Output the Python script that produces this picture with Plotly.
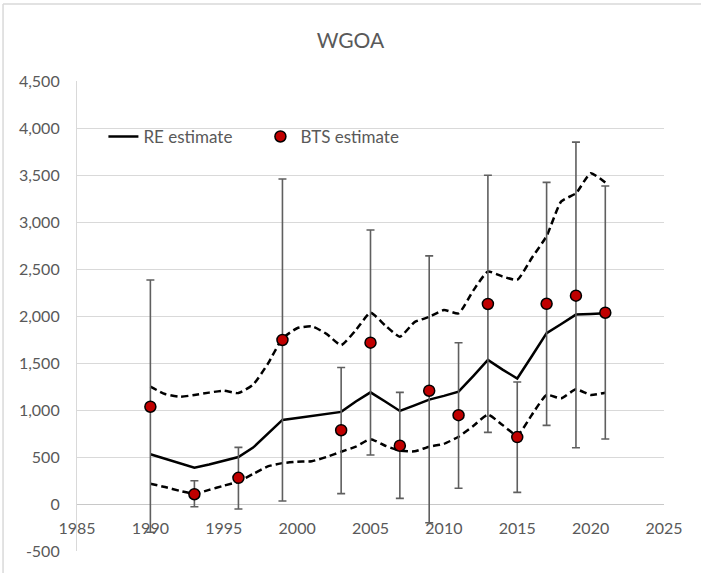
import plotly.graph_objects as go

# RE model (annual)
re_years = list(range(1990, 2022))
re_est = [529, 480, 432, 385, 420, 460, 500, 600, 745, 894, 915, 937, 958, 980, 1090, 1188,
          1090, 990, 1050, 1110, 1150, 1195, 1360, 1532, 1430, 1335, 1575, 1818, 1915, 2015, 2022, 2030]
re_upper = [1248, 1170, 1140, 1160, 1185, 1205, 1180, 1270, 1490, 1760, 1870, 1890, 1810, 1690, 1850, 2035,
            1900, 1780, 1935, 1990, 2064, 2028, 2270, 2472, 2420, 2385, 2620, 2850, 3220, 3305, 3518, 3420]
re_lower = [215, 180, 140, 110, 150, 195, 237, 320, 400, 435, 450, 455, 500, 556, 610, 690,
            620, 567, 560, 610, 640, 716, 830, 950, 840, 730, 950, 1160, 1124, 1220, 1160, 1184]

# Bottom trawl survey
bts_years = [1990, 1993, 1996, 1999, 2003, 2005, 2007, 2009, 2011, 2013, 2015, 2017, 2019, 2021]
bts_est = [1035, 104, 278, 1745, 785, 1716, 620, 1205, 945, 2128, 712, 2130, 2216, 2035]
bts_upper = [2383, 247, 602, 3457, 1452, 2915, 1188, 2640, 1716, 3498, 1298, 3422, 3850, 3383]
bts_lower = [-300, -30, -53, 32, 110, 521, 60, -199, 167, 762, 124, 836, 599, 691]

y_ticks = [-500, 0, 500, 1000, 1500, 2000, 2500, 3000, 3500, 4000, 4500]
y_ticktext = ["-500", "0", "500", "1,000", "1,500", "2,000", "2,500", "3,000", "3,500", "4,000", "4,500"]
x_ticks = [1985, 1990, 1995, 2000, 2005, 2010, 2015, 2020, 2025]

FONT = "Lato, 'Open Sans', sans-serif"
GRAY = "#595959"

fig = go.Figure()

fig.add_trace(go.Scatter(x=re_years, y=re_upper, mode="lines", showlegend=False,
                         line=dict(color="black", width=2.5, dash="7px,4px", shape="spline", smoothing=0.5),
                         hoverinfo="skip"))
fig.add_trace(go.Scatter(x=re_years, y=re_lower, mode="lines", showlegend=False,
                         line=dict(color="black", width=2.5, dash="7px,4px", shape="spline", smoothing=0.5),
                         hoverinfo="skip"))
fig.add_trace(go.Scatter(x=re_years, y=re_est, mode="lines", name="RE estimate",
                         line=dict(color="black", width=2.5)))

err_plus = [u - v for u, v in zip(bts_upper, bts_est)]
err_minus = [v - l for v, l in zip(bts_est, bts_lower)]
fig.add_trace(go.Scatter(x=bts_years, y=bts_est, mode="markers", name="BTS estimate",
                         marker=dict(color="#C00000", size=11, line=dict(color="black", width=1.5)),
                         error_y=dict(type="data", array=err_plus, arrayminus=err_minus,
                                      color="#5f5f5f", thickness=1.6, width=4)))

# outer chart border (left and top edges only)
fig.add_shape(type="line", xref="paper", yref="paper",
              x0=-0.126, x1=-0.126, y0=-0.2, y1=1.1638,
              line=dict(color="#d9d9d9", width=1.5), layer="below")
fig.add_shape(type="line", xref="paper", yref="paper",
              x0=-0.126, x1=1.1, y0=1.1638, y1=1.1638,
              line=dict(color="#d9d9d9", width=1.5), layer="below")

fig.update_layout(
    width=701, height=573,
    margin=dict(l=77, r=37, t=81, b=22),
    paper_bgcolor="white", plot_bgcolor="white",
    font=dict(family=FONT, color=GRAY, size=16),
    title=dict(text="WGOA", x=0.5, xref="container", xanchor="center",
               y=1 - 41 / 573, yanchor="middle",
               font=dict(family=FONT, size=21, color=GRAY)),
    showlegend=True,
    legend=dict(orientation="h", x=0.045, y=0.881, xanchor="left", yanchor="middle",
                bgcolor="rgba(0,0,0,0)", font=dict(size=17, color=GRAY),
                entrywidth=112, entrywidthmode="pixels"),
    xaxis=dict(range=[1985, 2025], tickvals=x_ticks, showgrid=False, zeroline=False,
               anchor="free", position=0.1, showline=False,
               ticks="outside", ticklen=10, tickcolor="rgba(0,0,0,0)",
               tickfont=dict(size=16, color=GRAY)),
    yaxis=dict(range=[-500, 4500], tickvals=y_ticks, ticktext=y_ticktext,
               showgrid=True, gridcolor="#d9d9d9", gridwidth=1,
               zeroline=True, zerolinecolor="#c8c8c8", zerolinewidth=1.2,
               showline=True, linecolor="#d9d9d9", linewidth=1.2,
               ticks="outside", ticklen=13, tickcolor="rgba(0,0,0,0)",
               tickfont=dict(size=16, color=GRAY)),
)

fig.write_html("out.html", config={"displayModeBar": False},
               post_script="document.body.style.margin='0';")
